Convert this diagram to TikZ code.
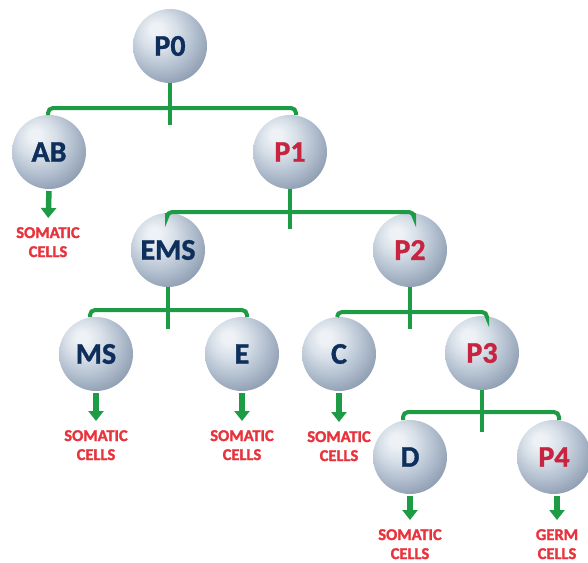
\documentclass[tikz,border=0pt]{standalone}
\usepackage{fontspec}
\setmainfont{Carlito}
\newfontfamily\heavyfont[BoldFeatures={FakeBold=1.6}]{Carlito}
\newfontfamily\labelfont[BoldFeatures={FakeBold=1.2}]{Carlito}
\usetikzlibrary{arrows.meta,fadings}

\definecolor{branch}{HTML}{1E9B45}
\definecolor{navy}{HTML}{0E2F5C}
\definecolor{crimson}{HTML}{C8243F}
\definecolor{fate}{HTML}{E8323C}
\definecolor{ballHi}{HTML}{EEF2F6}
\definecolor{ballA}{HTML}{D6DEE7}
\definecolor{ballB}{HTML}{B2BFCF}
\definecolor{ballC}{HTML}{8E9DB1}
\definecolor{ballD}{HTML}{67778D}
\definecolor{ballRim}{HTML}{3F4B5E}

% silver-blue sphere, highlight at the upper left
\pgfdeclareradialshading{cellball}{\pgfpoint{-10bp}{12bp}}{%
  color(0bp)=(ballHi); color(4bp)=(ballHi); color(13bp)=(ballA);
  color(23bp)=(ballB); color(33bp)=(ballC); color(43bp)=(ballD);
  color(53bp)=(ballRim); color(66bp)=(ballRim)}

\tikzset{
  cell/.style={circle, minimum size=74pt, inner sep=0pt, outer sep=0pt,
    shading=cellball, text=navy,
    font=\fontsize{30}{30}\labelfont\bfseries,
    append after command={
      \pgfextra{\fill[white, opacity=0.5,
        path fading=circle with fuzzy edge 20 percent]
        ([yshift=-25pt]\tikzlastnode.center) ellipse (22pt and 8pt);}}},
  germline/.style={cell, text=crimson},
  bar/.style={draw=branch, line width=4pt, rounded corners=5pt},
  stem/.style={draw=branch, line width=3.5pt},
  fatearrow/.style={draw=branch, line width=5.5pt,
    -{Triangle[width=15pt,length=10pt]}, shorten <=2pt, shorten >=9pt},
  fate/.style={anchor=north, inner sep=0pt, align=center, text=fate,
    font=\fontsize{16.5}{19}\heavyfont\bfseries}
}

\begin{document}
\begin{tikzpicture}[x=1pt, y=-1pt]
\useasboundingbox (0,0) rectangle (588,562);

% cells
\node[cell]     (P0)  at (170,46)  {P0};
\node[cell]     (AB)  at (49,152)  {AB};
\node[germline] (P1)  at (290,152) {P1};
\node[cell]     (EMS) at (168,250) {EMS};
\node[germline] (P2)  at (410,250) {P2};
\node[cell]     (MS)  at (96,354)  {MS};
\node[cell]     (E)   at (242,354) {E};
\node[cell]     (C)   at (339,354) {C};
\node[germline] (P3)  at (482,353) {P3};
\node[cell]     (D)   at (410,457) {D};
\node[germline] (P4)  at (554,457) {P4};

% division junctions and stem ends
\coordinate (j0) at (170,108); \coordinate (s0) at (170,125);
\coordinate (j1) at (290,212); \coordinate (s1) at (290,229);
\coordinate (j2) at (168,310); \coordinate (s2) at (168,329);
\coordinate (j3) at (410,312); \coordinate (s3) at (410,329);
\coordinate (j4) at (482,412); \coordinate (s4) at (482,432);

% divisions
\draw[stem] (P0.south) -- (s0);
\draw[bar] ([xshift=-1pt]AB.north) |- (j0) -| ([xshift=6pt]P1.north);
\draw[stem] (P1.south) -- (s1);
\draw[bar] ([xshift=-1pt]EMS.north) |- (j1) -| ([xshift=4pt]P2.north);
\draw[stem] (EMS.south) -- (s2);
\draw[bar] ([xshift=-6pt]MS.north) |- (j2) -| ([xshift=5pt]E.north);
\draw[stem] (P2.south) -- (s3);
\draw[bar] ([xshift=-2pt]C.north) |- (j3) -| ([xshift=5pt]P3.north);
\draw[stem] (P3.south) -- (s4);
\draw[bar] ([xshift=-7pt]D.north) |- (j4) -| ([xshift=5pt]P4.north);

% cell fates
\node[fate] (fAB) at (48,227)  {SOMATIC\\CELLS};
\node[fate] (fMS) at (96,430)  {SOMATIC\\CELLS};
\node[fate] (fE)  at (242,430) {SOMATIC\\CELLS};
\node[fate] (fC)  at (339,431) {SOMATIC\\CELLS};
\node[fate] (fD)  at (410,529) {SOMATIC\\CELLS};
\node[fate] (fP4) at (557,529) {GERM\\CELLS};

\draw[fatearrow] (AB.south) -- (fAB.north);
\draw[fatearrow] (MS.south) -- (fMS.north);
\draw[fatearrow] (E.south)  -- (fE.north);
\draw[fatearrow] (C.south)  -- (fC.north);
\draw[fatearrow] (D.south)  -- (fD.north);
\draw[fatearrow] ([xshift=3pt]P4.south) -- (fP4.north);
\end{tikzpicture}
\end{document}
